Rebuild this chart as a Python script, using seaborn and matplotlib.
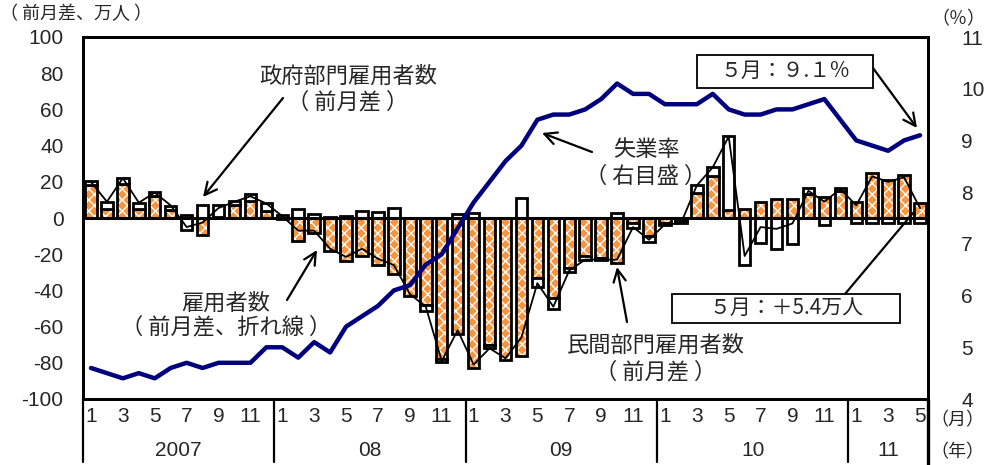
import matplotlib
matplotlib.use('Agg')
import matplotlib.pyplot as plt
import matplotlib.transforms as mtransforms
from matplotlib.patches import Rectangle
import seaborn as sns
import numpy as np

# Jan 2007 - May 2011, monthly
years = ['2007', '08', '09', '10', '11']
months_per_year = [12, 12, 12, 12, 5]

# change from previous month, 10k persons
private = [18.5, 5, 19, 5, 12, 4.5, 1.5, -9.5, 0.5, 7, 9.5, 4,
           -0.5, -12.5, -8.5, -18, -23.5, -21, -26, -31, -43, -48, -78, -64,
           -83, -70, -78.5, -76, -33, -44, -27.5, -21, -22, -25, -3, -10,
           -2.5, -1.5, 14, 23, 4.5, 5, 9, 10.5, 10.5, 13.5, 11.5, 15,
           9, 25, 21, 24, 8.5]
government = [2, 4, 3, 3.5, 2.5, 2.3, -6.5, 7, 6.5, 2.5, 3.5, 4.5,
              1.5, 5, 2, 0.5, 1.3, 4, 3.5, 5.3, 0, -3.5, -1.5, 2,
              2.5, -2, 0, 11, -5, -6.5, -2.5, -2, -1, 2.5, -2.5, -3,
              -1.5, -1.5, 4.5, 5, 41, -26, -14, -17, -14.5, 3, -4, 1.5,
              -2.5, -3, -3, -2.5, -3]
total = [20, 9, 22, 8.5, 14, 7, -5, -2.5, 5.5, 9, 12, 8,
         1, -7, -7, -17, -21.5, -17, -22.5, -26, -42, -49, -79, -62,
         -81, -72, -77.5, -66, -36, -49, -29, -23, -23, -23, -5, -12,
         -3.5, -3, 18, 28, 45, -21, -5, -6, -3, 15, 9, 16,
         7, 23, 20, 22.5, 5.4]
# unemployment rate, %
unemployment = [4.6, 4.5, 4.4, 4.5, 4.4, 4.6, 4.7, 4.6, 4.7, 4.7, 4.7, 5.0,
                5.0, 4.8, 5.1, 4.9, 5.4, 5.6, 5.8, 6.1, 6.2, 6.6, 6.8, 7.3,
                7.8, 8.2, 8.6, 8.9, 9.4, 9.5, 9.5, 9.6, 9.8, 10.1, 9.9, 9.9,
                9.7, 9.7, 9.7, 9.9, 9.6, 9.5, 9.5, 9.6, 9.6, 9.7, 9.8, 9.4,
                9.0, 8.9, 8.8, 9.0, 9.1]

sns.set_theme(style='white')
plt.rcParams['font.family'] = ['Liberation Sans', 'Noto Sans CJK JP']
plt.rcParams['axes.unicode_minus'] = False
plt.rcParams['hatch.linewidth'] = 1.0
JP = ['Noto Sans CJK JP', 'DejaVu Sans']

W, H = 989, 465
fig = plt.figure(figsize=(W / 100, H / 100), dpi=100)
ax = fig.add_axes([83 / W, 66 / H, 845 / W, 362 / H])

n = len(private)
x = np.arange(n)
p = np.array(private)
g = np.array(government)
# excel-style stacking: same-sign values stack, opposite signs start at zero
g_bottom = np.where(g >= 0, np.maximum(p, 0), np.minimum(p, 0))

w = 0.72
ax.bar(x, p, w, color='#F7953F', edgecolor='white', hatch='xxx', linewidth=0, zorder=2)
ax.bar(x, p, w, fill=False, edgecolor='black', linewidth=2.0, zorder=3)
ax.bar(x, g, w, bottom=g_bottom, color='white', edgecolor='black', linewidth=2.0, zorder=3)
ax.axhline(0, color='black', lw=2.2, zorder=3.5)
sns.lineplot(x=x, y=total, ax=ax, color='black', lw=1.3, zorder=4)

ax.set_xlim(-0.5, n - 0.5)
ax.set_ylim(-100, 100)
ax.set_yticks(range(-100, 101, 20))
ax.tick_params(axis='y', length=0, labelsize=15, pad=14)
for s in ax.spines.values():
    s.set_color('black')
    s.set_linewidth(2)

# month ticks (odd months) and year labels below
month_num = [m + 1 for k in months_per_year for m in range(k)]
tick_pos = [i for i, m in enumerate(month_num) if m % 2 == 1]
ax.set_xticks(tick_pos)
ax.set_xticklabels([str(month_num[i]) for i in tick_pos])
ax.tick_params(axis='x', length=0, labelsize=15, pad=6)

trans = mtransforms.blended_transform_factory(ax.transData, ax.transAxes)
start = 0
for yr, k in zip(years, months_per_year):
    ax.plot([start - 0.5, start - 0.5], [0, -0.175], transform=trans, clip_on=False,
            color='black', lw=1.6)
    ax.text(start + (k - 1) / 2, -0.142, yr, transform=trans, ha='center', va='center',
            fontsize=15)
    start += k
ax.plot([n - 0.5, n - 0.5], [0, -0.185], transform=trans, clip_on=False, color='black', lw=2.4)

# unemployment rate on right axis
ax2 = ax.twinx()
sns.lineplot(x=x, y=unemployment, ax=ax2, color='#00007F', lw=3.2, zorder=5)
ax2.set_ylim(4, 11)
ax2.set_yticks(range(4, 12))
ax2.tick_params(axis='y', length=0, labelsize=15, pad=24)
ax2.set_xlim(-0.5, n - 0.5)
ax2.set_ylabel('')
ax.set_ylabel('')
for s in ax2.spines.values():
    s.set_color('black')
    s.set_linewidth(2)


def fp(px, py):
    return (px, H - py)


def label(px, py, s, size=16, **kw):
    fig.text(px / W, 1 - py / H, s, ha='center', va='center', fontsize=size, family=JP, **kw)


def arrow(start_px, end_px, style='->'):
    ax2.annotate('', xy=fp(*end_px), xycoords='figure pixels',
                 xytext=fp(*start_px), textcoords='figure pixels',
                 arrowprops=dict(arrowstyle=style, lw=1.6, color='black',
                                 shrinkA=0, shrinkB=0, mutation_scale=22))


label(76, 14, '（ 前月差、万人 ）', size=13)
label(958, 19, '（％）', size=13)
label(957, 420, '（月）', size=13)
label(957, 452, '（年）', size=13)

label(348, 76, '政府部門雇用者数')
label(348, 102, '（ 前月差 ）')
arrow((283, 98), (203, 197))

label(646, 149, '失業率')
label(646, 176, '（ 右目盛 ）')
arrow((592, 152), (542, 133))

label(226, 303, '雇用者数')
label(226, 327, '（ 前月差、折れ線 ）')
arrow((287, 300), (317, 250))

label(656, 345, '民間部門雇用者数')
label(656, 372, '（ 前月差 ）')
arrow((627, 322), (617, 267))

fig.add_artist(Rectangle((697 / W, 1 - 88 / H), 176 / W, 33 / H, transform=fig.transFigure,
                         fc='white', ec='black', lw=1.3, zorder=6))
label(785, 71, '５月：９.１%', size=15, zorder=7)
arrow((873, 68), (917, 128))

fig.add_artist(Rectangle((672 / W, 1 - 323 / H), 228 / W, 29 / H, transform=fig.transFigure,
                         fc='white', ec='black', lw=1.3, zorder=6))
label(786, 308, '５月：＋5.4万人', size=15, zorder=7)
arrow((845, 294), (913, 213), style='-')

fig.savefig('out.png', dpi=100)
